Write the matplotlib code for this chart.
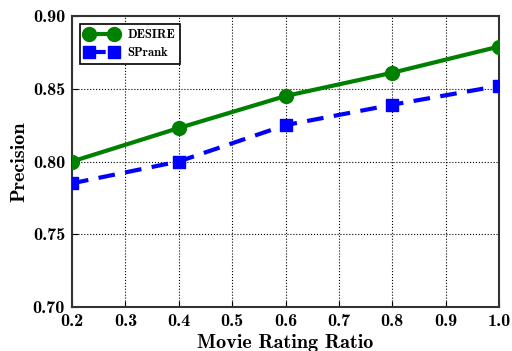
import matplotlib
matplotlib.use("Agg")
import matplotlib.pyplot as plt
from matplotlib.lines import Line2D

# data
ratio = [0.2, 0.4, 0.6, 0.8, 1.0]
desire = [0.800, 0.823, 0.845, 0.861, 0.879]
sprank = [0.785, 0.800, 0.825, 0.839, 0.852]

plt.rcParams['font.family'] = ['cmb10', 'DejaVu Serif']
plt.rcParams['axes.unicode_minus'] = False

fig = plt.figure(figsize=(5.12, 3.51), dpi=100)
ax = fig.add_axes([72 / 512, 44 / 351, 427 / 512, 291 / 351])

# lines, then markers as scatter so they get clipped at the axes edge
ax.plot(ratio, desire, color='green', lw=3, zorder=3)
ax.plot(ratio, sprank, color='blue', lw=3, ls='--', dashes=(4, 2.5), zorder=3)
ax.scatter(ratio, desire, s=100, color='green', marker='o', zorder=4)
ax.scatter(ratio, sprank, s=81, color='blue', marker='s', zorder=4)

ax.set_xlim(0.2, 1.0)
ax.set_ylim(0.70, 0.90)
ax.set_xticks([0.2, 0.3, 0.4, 0.5, 0.6, 0.7, 0.8, 0.9, 1.0])
ax.set_yticks([0.70, 0.75, 0.80, 0.85, 0.90])
ax.set_xticklabels(['0.2', '0.3', '0.4', '0.5', '0.6', '0.7', '0.8', '0.9', '1.0'])
ax.set_yticklabels(['0.70', '0.75', '0.80', '0.85', '0.90'])
ax.tick_params(labelsize=13, direction='in', length=4, pad=5)
ax.grid(True, ls=':', color='black', lw=0.8)

for s in ax.spines.values():
    s.set_linewidth(1.5)
    s.set_color('#333333')

ax.set_xlabel('Movie Rating Ratio', fontsize=14.5, labelpad=4)
ax.set_ylabel('Precision', fontsize=14.5, labelpad=3)

handles = [
    Line2D([], [], color='green', lw=3, marker='o', ms=10),
    Line2D([], [], color='blue', lw=3, ls='--', dashes=(4, 2.5), marker='s', ms=9),
]
leg = ax.legend(handles, ['DESIRE', 'SPrank'], loc='upper left', fontsize=9,
                fancybox=False, framealpha=1, edgecolor='black',
                borderaxespad=0.65, handlelength=2.6, numpoints=2)
leg.get_frame().set_linewidth(1.2)

fig.savefig('out.png', dpi=100)
